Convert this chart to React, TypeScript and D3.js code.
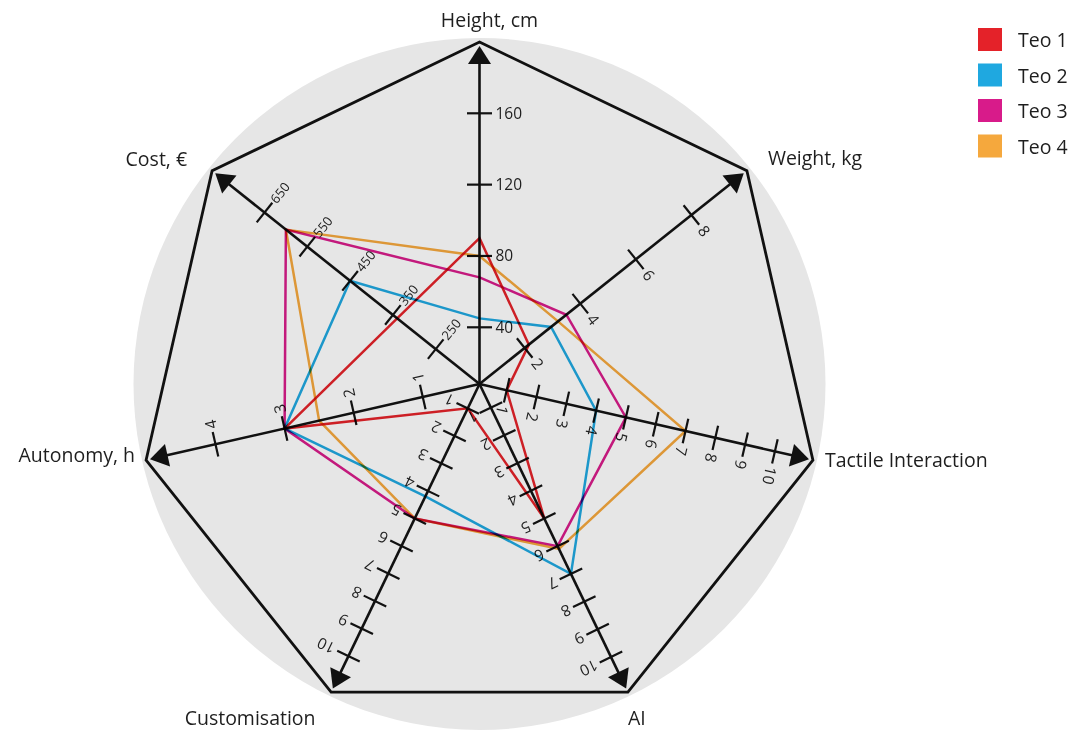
import React, { useEffect, useRef } from "react";
import * as d3 from "d3";

// axis titles, clockwise from the top
const axisNames = ["Height, cm", "Weight, kg", "Tactile Interaction", "AI", "Customisation", "Autonomy, h", "Cost, €"];

// tick labels per axis
const heightTicks = [40, 80, 120, 160];
const weightTicks = [2, 4, 6, 8];
const tactileTicks = [1, 2, 3, 4, 5, 6, 7, 8, 9, 10];
const aiTicks = [1, 2, 3, 4, 5, 6, 7, 8, 9, 10];
const customTicks = [1, 2, 3, 4, 5, 6, 7, 8, 9, 10];
const autonomyTicks = [1, 2, 3, 4];
const costTicks = [250, 350, 450, 550, 650];

// series values, same order as axisNames
const seriesNames = ["Teo 1", "Teo 2", "Teo 3", "Teo 4"];
const teo1 = [90, 2.15, 1, 5, 1, 3, 340];
const teo2 = [45, 2.95, 4, 7, 4.2, 3, 450];
const teo3 = [68, 3.5, 5, 6, 5, 3, 600];
const teo4 = [80, 3.2, 7, 6.1, 5, 2.5, 600];
const seriesColors = ["#e42229", "#1fa8e0", "#d81b8a", "#f5a83d"];

const W = 1073, H = 733;
const cx = 479.5, cy = 384, R = 342;

const App = () => {
  const svgRef = useRef(null);

  useEffect(() => {
    const svg = d3.select(svgRef.current);
    svg.selectAll("*").remove();

    const font = "'Open Sans', sans-serif";
    const n = axisNames.length;
    const angle = (i) => (i * 360) / n; // degrees clockwise from up
    const rad = (i) => (angle(i) * Math.PI) / 180;
    const pt = (i, r) => [cx + r * Math.sin(rad(i)), cy - r * Math.cos(rad(i))];

    // each axis has its own linear scale (the centre is not zero on every axis)
    const axes = [
      { ticks: heightTicks, scale: d3.scaleLinear().domain([40, 160]).range([56.7, 270.7]) },
      { ticks: weightTicks, scale: d3.scaleLinear().domain([2, 8]).range([57.8, 271]) },
      { ticks: tactileTicks, scale: d3.scaleLinear().domain([1, 10]).range([27.9, 303]) },
      { ticks: aiTicks, scale: d3.scaleLinear().domain([2, 10]).range([57, 303]) },
      { ticks: customTicks, scale: d3.scaleLinear().domain([2, 10]).range([57.6, 302]) },
      { ticks: autonomyTicks, scale: d3.scaleLinear().domain([1, 4]).range([58.2, 270.8]) },
      { ticks: costTicks, scale: d3.scaleLinear().domain([250, 650]).range([56, 275]), small: true },
    ];

    // background disc
    svg.append("circle").attr("cx", cx).attr("cy", cy).attr("r", 346).attr("fill", "#e6e6e6");

    // outer heptagon
    const outer = d3.range(n).map((i) => pt(i, R));
    svg
      .append("path")
      .attr("d", d3.line().curve(d3.curveLinearClosed)(outer))
      .attr("fill", "none")
      .attr("stroke", "#111")
      .attr("stroke-width", 2.8)
      .attr("stroke-linejoin", "miter");

    // axes, ticks, arrowheads
    axes.forEach((ax, i) => {
      const g = svg.append("g").attr("transform", `translate(${cx},${cy}) rotate(${angle(i)})`);
      g.append("line").attr("x1", 0).attr("y1", 0).attr("x2", 0).attr("y2", -(R - 18))
        .attr("stroke", "#111").attr("stroke-width", 2.6);
      g.append("path")
        .attr("d", `M0,${-(R - 4)} L11.5,${-(R - 22)} L-11.5,${-(R - 22)} Z`)
        .attr("fill", "#111");
      const t = g.selectAll("g.tick").data(ax.ticks).join("g")
        .attr("transform", (d) => `translate(0,${-ax.scale(d)})`);
      t.append("line").attr("x1", -12.5).attr("x2", 12.5).attr("stroke", "#111").attr("stroke-width", 2.2);
      t.append("text")
        .attr("x", ax.small ? 14 : 16)
        .attr("dy", "0.35em")
        .attr("font-family", font)
        .attr("font-size", ax.small ? 13 : 15.5)
        .attr("fill", "#1e1e1e")
        .text((d) => d);
    });

    // series polygons
    const series = [teo1, teo2, teo3, teo4];
    const line = d3.line().curve(d3.curveLinearClosed);
    series.forEach((vals, s) => {
      const pts = vals.map((v, i) => pt(i, axes[i].scale(v)));
      svg
        .append("path")
        .attr("d", line(pts))
        .attr("fill", "none")
        .attr("stroke", seriesColors[s])
        .attr("stroke-width", 2.5)
        .attr("stroke-linejoin", "miter")
        .style("mix-blend-mode", "multiply");
    });

    // axis titles
    const titlePos = [
      { dx: 10, dy: -15, anchor: "middle" },
      { dx: 21, dy: -6, anchor: "start" },
      { dx: 12, dy: 7, anchor: "start" },
      { dx: 9, dy: 33, anchor: "middle" },
      { dx: -81, dy: 33, anchor: "middle" },
      { dx: -11, dy: 2, anchor: "end" },
      { dx: -25, dy: -5, anchor: "end" },
    ];
    axisNames.forEach((name, i) => {
      const [x, y] = pt(i, R);
      svg.append("text")
        .attr("x", x + titlePos[i].dx)
        .attr("y", y + titlePos[i].dy)
        .attr("text-anchor", titlePos[i].anchor)
        .attr("font-family", font)
        .attr("font-size", 19.5)
        .attr("fill", "#1e1e1e")
        .text(name);
    });

    // legend
    const legend = svg.append("g").attr("transform", "translate(978,28)");
    const rows = legend.selectAll("g").data(seriesNames).join("g")
      .attr("transform", (d, i) => `translate(0,${i * 35.5})`);
    rows.append("rect").attr("width", 24).attr("height", 23).attr("fill", (d, i) => seriesColors[i]);
    rows.append("text")
      .attr("x", 40)
      .attr("y", 19)
      .attr("font-family", font)
      .attr("font-size", 19.5)
      .attr("fill", "#1e1e1e")
      .text((d) => d);
  }, []);

  return (
    <svg
      ref={svgRef}
      width={W}
      height={H}
      style={{ position: "absolute", left: 0, top: 0, background: "#fff" }}
    />
  );
};

export default App;
